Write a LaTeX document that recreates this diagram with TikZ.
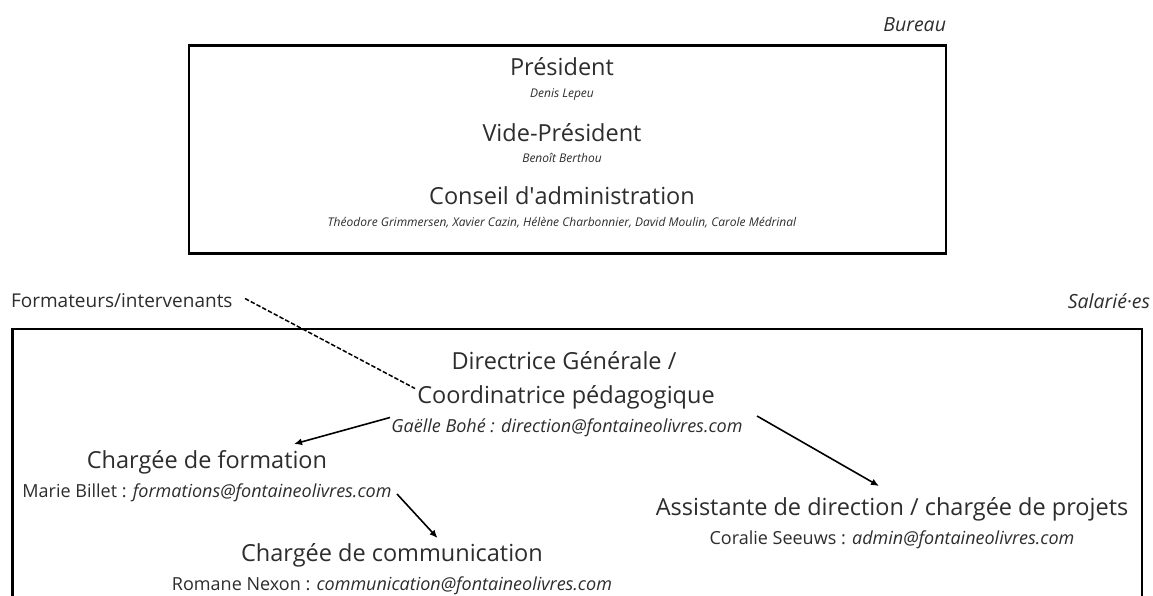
\documentclass[tikz,border=0pt]{standalone}
\usepackage{fontspec}
\setmainfont{Open Sans}
\newfontfamily\nomapfont{Open Sans}
\usetikzlibrary{arrows.meta}
\definecolor{txt}{RGB}{45,45,45}
\begin{document}
\begin{tikzpicture}[x=1pt,y=-1pt,
  every node/.style={inner sep=0pt, outer sep=0pt, text=txt, anchor=base},
  title/.style={font=\fontsize{23.5}{28}\selectfont},
  who/.style={font=\fontsize{12}{14}\selectfont\itshape},
  mail/.style={font=\fontsize{18}{21}\selectfont},
  grouplabel/.style={font=\fontsize{19.5}{23}\selectfont\itshape},
  sidelabel/.style={font=\fontsize{19}{23}\selectfont},
  frame/.style={draw=black, line width=2.6pt},
  arr/.style={draw=black, line width=1.6pt, -{Latex[length=8pt,width=7pt]}},
  dashline/.style={draw=black, line width=1.5pt, dash pattern=on 4.5pt off 2pt}
]
\useasboundingbox (0,0) rectangle (1153,596);
\clip (0,0) rectangle (1153,596);
\fill[white] (0,0) rectangle (1153,596);

% Bureau
\node[grouplabel, anchor=base east] (bureau) at (946,32) {Bureau};
\draw[frame] (189,45.5) rectangle (946,253.5);
\node[title] (pres) at (562,76) {Président};
\node[who] (presn) at (562,98) {Denis Lepeu};
\node[title] (vpres) at (562,141.5) {Vide-Président};
\node[who] (vpresn) at (562,163) {Benoît Berthou};
\node[title] (ca) at (562,204.5) {Conseil d{\nomapfont '}administration};
\node[who] (can) at (562,226) {Théodore Grimmersen, Xavier Cazin, Hélène Charbonnier, David Moulin, Carole Médrinal};

% Salarie.es
\node[sidelabel, anchor=base west] (form) at (11,307) {Formateurs/intervenants};
\node[grouplabel, anchor=base east] (sal) at (1150,308) {Salarié·es};
\draw[frame] (12.5,329) rectangle (1142,640);

\node[title] (dg1) at (564,369) {Directrice Générale /};
\node[title] (dg2) at (566,403.5) {Coordinatrice pédagogique};
\node[mail, font=\fontsize{18}{21}\selectfont\itshape] (dgm) at (567,432) {Gaëlle Bohé : direction@fontaineolivres.com};

\node[title] (cf) at (207,468.5) {Chargée de formation};
\node[mail] (cfm) at (207,497) {Marie Billet : \textit{formations@fontaineolivres.com}};

\node[title] (ad) at (892,515.5) {Assistante de direction / chargée de projets};
\node[mail] (adm) at (892,544) {Coralie Seeuws : \textit{admin@fontaineolivres.com}};

\node[title] (cc) at (392,561.5) {Chargée de communication};
\node[mail] (ccm) at (392,590) {Romane Nexon : \textit{communication@fontaineolivres.com}};

% connectors
\coordinate (formend) at (245,298.5);
\coordinate (dgin) at (415,388.5);
\draw[dashline] (formend) -- (dgin);

\coordinate (a1s) at (390,417.5);
\coordinate (a1e) at (294,444);
\draw[arr] (a1s) -- (a1e);

\coordinate (a2s) at (757,416);
\coordinate (a2e) at (879,486);
\draw[arr] (a2s) -- (a2e);

\coordinate (a3s) at (397,494);
\coordinate (a3e) at (437.5,538);
\draw[arr] (a3s) -- (a3e);
\end{tikzpicture}
\end{document}
